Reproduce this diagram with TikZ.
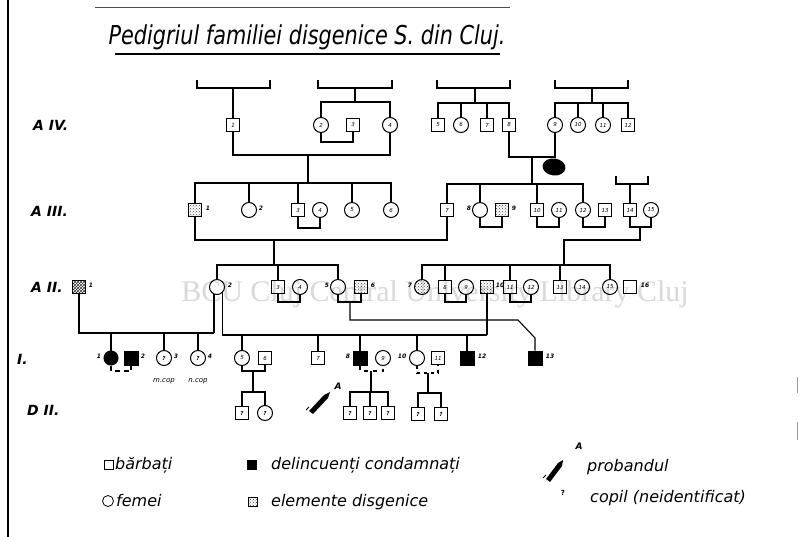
\documentclass[tikz,border=0pt]{standalone}
\usepackage{fontspec}
\setmainfont{DejaVu Sans}
\newfontfamily\titlefont{DejaVu Sans}[FakeStretch=0.8]
\newfontfamily\wmfont{Liberation Serif}
\usetikzlibrary{patterns,calc,shapes.geometric}
\tikzset{
  ln/.style={line width=1.1pt},
  sq/.style={draw, line width=1pt, rectangle, minimum size=13pt, inner sep=0pt, font=\fontsize{5.5}{5.5}\selectfont\itshape},
  ci/.style={draw, line width=1pt, circle, minimum size=15pt, inner sep=0pt, font=\fontsize{5.5}{5.5}\selectfont\itshape},
  blk/.style={fill=black, minimum size=14pt},
  dis/.style={pattern=crosshatch dots, pattern color=black!75},
  hatch/.style={pattern=crosshatch, pattern color=black!80},
  lab/.style={font=\fontsize{6}{6}\selectfont\itshape\bfseries, inner sep=0.5pt},
  gen/.style={font=\fontsize{14}{14}\selectfont\bfseries\itshape, anchor=west, inner sep=0pt},
  leg/.style={font=\fontsize{16}{16}\selectfont\itshape, anchor=west, inner sep=0pt},
  lsq/.style={draw, line width=0.8pt, rectangle, minimum size=9pt, inner sep=0pt},
  lci/.style={draw, line width=0.8pt, circle, minimum size=11pt, inner sep=0pt},
}
\begin{document}
\begin{tikzpicture}[x=1pt,y=-1pt]
\useasboundingbox (0,0) rectangle (800,537);
\fill[white] (0,0) rectangle (800,537);
% paper edges
\draw[line width=2pt] (8,0) -- (8,537);
\draw[line width=1pt, black!70] (95,8) -- (510,8);
\draw[line width=1pt, black!40] (797,377) -- (797,393);
\draw[line width=1pt, black!40] (797,422) -- (797,440);
% watermark
\node[font=\wmfont\fontsize{30}{30}\selectfont, text=black!15, inner sep=0pt] (wm) at (435,294) {BCU Cluj Central University Library Cluj};
% title
\node[font=\titlefont\fontsize{26}{26}\selectfont\itshape, inner sep=0pt, anchor=base] (title) at (307,45) {Pedigriul familiei disgenice S. din Cluj.};
\draw[line width=1.2pt] (115,54) -- (500,54);
% generation labels
\node[gen] (gIV) at (33,125) {A IV.};
\node[gen] (gIII) at (31,211) {A III.};
\node[gen] (gII) at (31,287) {A II.};
\node[gen] (gI) at (17,359) {I.};
\node[gen] (gD) at (27,410) {D II.};

% ---------- Generation IV ----------
\node[sq] (iv1) at (233,125) {1};
\node[ci] (iv2) at (321,125) {2};
\node[sq] (iv3) at (353,125) {3};
\node[ci] (iv4) at (390,125) {4};
\node[sq] (iv5) at (438,125) {5};
\node[ci] (iv6) at (461,125) {6};
\node[sq] (iv7) at (487,125) {7};
\node[sq] (iv8) at (509,125) {8};
\node[ci] (iv9) at (555,125) {9};
\node[ci] (iv10) at (578,125) {10};
\node[ci] (iv11) at (603,125) {11};
\node[sq] (iv12) at (628,125) {12};
% brackets
\draw[ln] (197,80) -- (197,88) -- (270,88) -- (270,80);
\draw[ln] (318,80) -- (318,88) -- (392,88) -- (392,80);
\draw[ln] (437,80) -- (437,88) -- (510,88) -- (510,80);
\draw[ln] (555,80) -- (555,88) -- (628,88) -- (628,80);
\draw[ln] (616,176) -- (616,184) -- (648,184) -- (648,176);
\coordinate (b1) at (233,88);
\coordinate (b2) at (355,88);
\coordinate (b3) at (475,88);
\coordinate (b4) at (592,88);
\coordinate (b5) at (630,184);
\coordinate (s4a) at (355,102);
\coordinate (s4b) at (475,103);
\coordinate (s4c) at (592,103);
\draw[ln] (b1) -- (iv1);
\draw[ln] (b2) -- (s4a);
\draw[ln] (iv2) |- (s4a) -| (iv4);
\draw[ln] (b3) -- (s4b);
\draw[ln] (iv5) |- (s4b) -| (iv8);
\draw[ln] (iv6) -- (iv6 |- s4b);
\draw[ln] (iv7) -- (iv7 |- s4b);
\draw[ln] (b4) -- (s4c);
\draw[ln] (iv9) |- (s4c) -| (iv12);
\draw[ln] (iv10) -- (iv10 |- s4c);
\draw[ln] (iv11) -- (iv11 |- s4c);
% marriages IV
\coordinate (m1) at (337,142);
\coordinate (m2) at (308,155);
\coordinate (m3) at (532,157);
\draw[ln] (iv2) |- (m1) -| (iv3);
\draw[ln] (iv1) |- (m2) -| (iv4);
\draw[ln] (iv8) |- (m3) -| (iv9);
\node[fill=black, ellipse, minimum width=23pt, minimum height=17pt, inner sep=0pt, rotate=-8] (blob) at (554,167) {};

% ---------- Generation III ----------
\node[sq, dis] (iii1) at (195,210) {};
\node[lab] (l31) at (208,208) {1};
\node[ci] (iii2) at (249,210) {};
\node[lab] (l32) at (261,208) {2};
\node[sq] (iii3) at (298,210) {3};
\node[ci] (iii4) at (320,210) {4};
\node[ci] (iii5) at (352,210) {5};
\node[ci] (iii6) at (391,210) {6};
\node[sq] (iii7) at (447,210) {7};
\node[ci] (iii8) at (480,210) {};
\node[lab] (l38) at (469,208) {8};
\node[sq, dis] (iii9) at (502,210) {};
\node[lab] (l39) at (514,208) {9};
\node[sq] (iii10) at (537,210) {10};
\node[ci] (iii11) at (559,210) {11};
\node[ci] (iii12) at (583,210) {12};
\node[sq] (iii13) at (605,210) {13};
\node[sq] (iii14) at (630,210) {14};
\node[ci] (iii15) at (651,210) {15};
\coordinate (s3L) at (308,183);
\coordinate (s3R) at (532,184);
\draw[ln] (m2) -- (s3L);
\draw[ln] (iii1) |- (s3L) -| (iii6);
\draw[ln] (iii2) -- (iii2 |- s3L);
\draw[ln] (iii3) -- (iii3 |- s3L);
\draw[ln] (iii5) -- (iii5 |- s3L);
\draw[ln] (m3) -- (s3R);
\draw[ln] (iii7) |- (s3R) -| (iii12);
\draw[ln] (iii8) -- (iii8 |- s3R);
\draw[ln] (iii10) -- (iii10 |- s3R);
\draw[ln] (b5) -- (iii14);
% marriages III
\coordinate (m4) at (274,240);
\coordinate (m5) at (309,228);
\coordinate (m6) at (491,227);
\coordinate (m7) at (548,227);
\coordinate (m8) at (594,227);
\coordinate (m9) at (640,227);
\coordinate (k1) at (640,240);
\draw[ln] (iii3) |- (m5) -| (iii4);
\draw[ln] (iii1) |- (m4) -| (iii7);
\draw[ln] (iii8) |- (m6) -| (iii9);
\draw[ln] (iii10) |- (m7) -| (iii11);
\draw[ln] (iii12) |- (m8) -| (iii13);
\draw[ln] (iii14) |- (m9) -| (iii15);

% ---------- Generation II ----------
\node[sq, hatch] (ii1) at (79,287) {};
\node[lab] (l21) at (91,285) {1};
\node[ci] (ii2) at (217,287) {};
\node[lab] (l22) at (230,285) {2};
\node[sq] (ii3) at (278,287) {3};
\node[ci] (ii4) at (300,287) {4};
\node[ci] (ii5) at (338,287) {};
\node[lab] (l25) at (327,285) {5};
\node[sq, dis] (ii6) at (361,287) {};
\node[lab] (l26) at (373,285) {6};
\node[ci, dis] (ii7) at (422,287) {};
\node[lab] (l27) at (410,285) {7};
\node[sq] (ii8) at (445,287) {8};
\node[ci] (ii9) at (466,287) {9};
\node[sq, dis] (ii10) at (487,287) {};
\node[lab] (l210) at (500,285) {10};
\node[sq] (ii11) at (510,287) {11};
\node[ci] (ii12) at (531,287) {12};
\node[sq] (ii13) at (560,287) {13};
\node[ci] (ii14) at (582,287) {14};
\node[ci] (ii15) at (610,287) {15};
\node[sq] (ii16) at (630,287) {};
\node[lab] (l216) at (645,285) {16};
\coordinate (s2L) at (274,265);
\coordinate (s2R) at (564,265);
\draw[ln] (m4) -- (s2L);
\draw[ln] (ii2) |- (s2L) -| (ii5);
\draw[ln] (ii3) -- (ii3 |- s2L);
\draw[ln] (m9) -- (k1) -| (s2R);
\draw[ln] (ii7) |- (s2R) -| (ii15);
\draw[ln] (ii8) -- (ii8 |- s2R);
\draw[ln] (ii11) -- (ii11 |- s2R);
\draw[ln] (ii13) -- (ii13 |- s2R);
% marriages II
\coordinate (m10) at (289,302);
\coordinate (m11) at (350,302);
\coordinate (m12) at (455,302);
\coordinate (m13) at (520,302);
\draw[ln] (ii3) |- (m10) -| (ii4);
\draw[ln] (ii5) |- (m11) -| (ii6);
\draw[ln] (ii8) |- (m12) -| (ii9);
\draw[ln] (ii11) |- (m13) -| (ii12);
\coordinate (k3) at (487,320);
\coordinate (k4) at (518,320);
\coordinate (k5) at (535,338);
\coordinate (k6) at (487,335);
\coordinate (j2) at (ii2.-112 |- 0,333);
\coordinate (j3) at (ii2.-48 |- 0,335);

% ---------- Generation I ----------
\node[ci, blk] (i1) at (111,358) {};
\node[lab] (l11) at (99,356) {1};
\node[sq, blk] (i2) at (131,358) {};
\node[lab] (l12) at (143,356) {2};
\node[ci] (i3) at (164,358) {\bfseries ?};
\node[lab] (l13) at (176,356) {3};
\node[ci] (i4) at (198,358) {\bfseries ?};
\node[lab] (l14) at (210,356) {4};
\node[lab, font=\fontsize{7}{7}\selectfont\itshape] (t13) at (164,381) {m.cop};
\node[lab, font=\fontsize{7}{7}\selectfont\itshape] (t14) at (198,381) {n.cop};
\node[ci] (i5) at (242,358) {5};
\node[sq] (i6) at (265,358) {6};
\node[sq] (i7) at (318,358) {7};
\node[sq, blk] (i8) at (360,358) {};
\node[lab] (l18) at (348,356) {8};
\node[ci] (i9) at (383,358) {9};
\node[ci] (i10) at (417,358) {};
\node[lab] (l110) at (402,356) {10};
\node[sq] (i11) at (438,358) {11};
\node[sq, blk] (i12) at (467,358) {};
\node[lab] (l112) at (482,356) {12};
\node[sq, blk] (i13) at (535,358) {};
\node[lab] (l113) at (550,356) {13};
% descent lines to generation I
\draw[ln] (ii1) |- (j2);
\draw[ln] (ii2.-112) -- (j2);
\draw[ln] (i1) -- (i1 |- j2);
\draw[ln] (i3) -- (i3 |- j2);
\draw[ln] (i4) -- (i4 |- j2);
\draw[ln] (ii2.-48) -- (j3) -- (k6);
\draw[ln] (i5) -- (i5 |- j3);
\draw[ln] (i7) -- (i7 |- j3);
\draw[ln] (i8) -- (i8 |- j3);
\draw[ln] (i10) -- (i10 |- j3);
\draw[ln] (i12) -- (i12 |- j3);
\draw[ln] (ii10) -- (k3) -- (k6);
\draw[ln] (m11) |- (k4) -- (k5) -- (i13);
% marriages I
\coordinate (n1) at (121,371);
\coordinate (n2) at (253,371);
\coordinate (n3) at (371,371);
\coordinate (n4) at (428,373);
\draw[ln, dash pattern=on 5pt off 4pt] (i1) |- (n1) -| (i2);
\draw[ln] (i5) |- (n2) -| (i6);
\draw[ln, dash pattern=on 4pt off 5pt] (i8) |- (n3) -| (i9);
\draw[ln, dash pattern=on 3pt off 4pt] (i10) |- (n4) -| (i11);

% ---------- Generation D II ----------
\node[sq] (d1) at (242,413) {\bfseries ?};
\node[ci] (d2) at (265,413) {\bfseries ?};
\node[sq] (d3) at (350,413) {\bfseries ?};
\node[sq] (d4) at (370,413) {\bfseries ?};
\node[sq] (d5) at (388,413) {\bfseries ?};
\node[sq] (d6) at (418,414) {\bfseries ?};
\node[sq] (d7) at (441,414) {\bfseries ?};
\coordinate (t1) at (253,392);
\coordinate (t2) at (371,392);
\coordinate (t3) at (428,393);
\draw[ln] (n2) -- (t1);
\draw[ln] (d1) |- (t1) -| (d2);
\draw[ln] (n3) -- (t2);
\draw[ln] (d3) |- (t2) -| (d5);
\draw[ln] (d4) -- (d4 |- t2);
\draw[ln] (n4) -- (t3);
\draw[ln] (d6) |- (t3) -| (d7);

% probandul marker
\fill (309,411) -- (324,395) -- (330,392) -- (328,398) -- (313,414) -- cycle;
\draw[line width=0.8pt] (306,410) -- (309,407);
\node[font=\fontsize{9}{9}\selectfont\bfseries\itshape, inner sep=0pt] (pA) at (338,386) {A};

% ---------- Legend ----------
\node[lsq] (lg1) at (109,465) {};
\node[leg] (lt1) at (115,465) {bărbați};
\node[lci] (lg2) at (108,501) {};
\node[leg] (lt2) at (116,501) {femei};
\node[lsq, fill=black] (lg3) at (252,465) {};
\node[leg] (lt3) at (271,465) {delincuenți condamnați};
\node[lsq, dis] (lg4) at (253,502) {};
\node[leg] (lt4) at (271,502) {elemente disgenice};
\fill (546,479) -- (558,463) -- (563,460) -- (562,466) -- (550,482) -- cycle;
\draw[line width=0.8pt] (543,478) -- (546,475);
\node[font=\fontsize{9}{9}\selectfont\bfseries\itshape, inner sep=0pt] (lgA) at (579,446) {A};
\node[leg] (lt5) at (587,467) {probandul};
\node[font=\fontsize{7}{7}\selectfont\bfseries, inner sep=0pt] (lg6) at (563,493) {?};
\node[leg] (lt6) at (590,498) {copil (neidentificat)};
\end{tikzpicture}
\end{document}
